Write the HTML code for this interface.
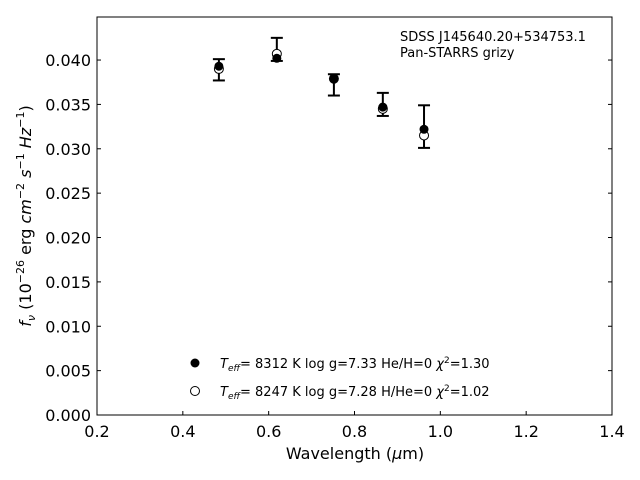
<!DOCTYPE html>
<html><head><meta charset="utf-8"><style>
body{margin:0;background:#fff;}
svg{display:block;font-family:"DejaVu Sans","Liberation Sans",sans-serif;}
</style></head><body>
<svg id="chart" width="640" height="480" xmlns="http://www.w3.org/2000/svg">
<rect x="97" y="17" width="515" height="398" fill="none" stroke="#000" stroke-width="1"/>
<g id="xticks"></g>
<g id="yticks"></g>
<g id="marks"></g>
<text x="355" y="459" font-size="16" text-anchor="middle">Wavelength (<tspan font-style="italic">μ</tspan>m)</text>
<text transform="translate(31,216) rotate(-90)" font-size="16" text-anchor="middle"><tspan font-style="italic">f</tspan><tspan font-style="italic" font-size="11" dy="4">ν</tspan><tspan dy="-4"> (10</tspan><tspan font-size="11" dy="-7">−26</tspan><tspan dy="7"> erg </tspan><tspan font-style="italic">cm</tspan><tspan font-size="11" dy="-7">−2</tspan><tspan dy="7"> </tspan><tspan font-style="italic">s</tspan><tspan font-size="11" dy="-7">−1</tspan><tspan dy="7"> </tspan><tspan font-style="italic">Hz</tspan><tspan font-size="11" dy="-7">−1</tspan><tspan dy="7">)</tspan></text>
<text x="400" y="41" font-size="13">SDSS J145640.20+534753.1</text>
<text x="400" y="57" font-size="13">Pan-STARRS grizy</text>
<g>
<circle cx="195" cy="363" r="4.5" fill="#000"/>
<text x="220" y="368" font-size="13"><tspan font-style="italic">T</tspan><tspan font-style="italic" font-size="9" dy="3">eff</tspan><tspan dy="-3">=  8312 K  log g=7.33  He/H=0  </tspan><tspan font-style="italic">χ</tspan><tspan font-size="9" dy="-5">2</tspan><tspan dy="5">=1.30</tspan></text>
<circle cx="195" cy="391" r="4.5" fill="#fff" stroke="#000" stroke-width="1"/>
<text x="220" y="396" font-size="13"><tspan font-style="italic">T</tspan><tspan font-style="italic" font-size="9" dy="3">eff</tspan><tspan dy="-3">=  8247 K  log g=7.28  H/He=0  </tspan><tspan font-style="italic">χ</tspan><tspan font-size="9" dy="-5">2</tspan><tspan dy="5">=1.02</tspan></text>
</g>
</svg>
<script>
const wavelengths=[0.484,0.619,0.752,0.866,0.962];
const observed=[0.0389,0.0412,0.0372,0.0350,0.0325];
const errors=[0.0012,0.0013,0.0012,0.0013,0.0024];
const modelHeH=[0.0393,0.0402,0.0379,0.0347,0.0322];
const modelHHe=[0.0390,0.0407,0.0379,0.0345,0.0315];
const xTickLabels=["0.2","0.4","0.6","0.8","1.0","1.2","1.4"];
const yTickLabels=["0.000","0.005","0.010","0.015","0.020","0.025","0.030","0.035","0.040"];
const NS="http://www.w3.org/2000/svg";
const X0=97,X1=612,Y0=415,Y1=17,xmin=0.2,xmax=1.4,ymin=0,ymax=0.04485;
function sx(v){return X0+(v-xmin)/(xmax-xmin)*(X1-X0);}
function sy(v){return Y0-(v-ymin)/(ymax-ymin)*(Y0-Y1);}
function mk(tag,attrs,parent){const e=document.createElementNS(NS,tag);for(const k in attrs)e.setAttribute(k,attrs[k]);parent.appendChild(e);return e;}
const gx=document.getElementById('xticks'),gy=document.getElementById('yticks'),gm=document.getElementById('marks');
xTickLabels.forEach(l=>{const x=sx(parseFloat(l));
 const t=mk('line',{x1:x,x2:x,y1:Y0,y2:Y0-4,stroke:'#000'},gx);
 
 
 const tt=mk('text',{x:x,y:Y0+22,'font-size':16,'text-anchor':'middle'},gx);tt.textContent=l;
 
 
});
yTickLabels.forEach(l=>{const y=sy(parseFloat(l));
 const t=mk('line',{x1:X0,x2:X0+4,y1:y,y2:y,stroke:'#000'},gy);
 
 
 const t2=mk('line',{x1:X1,x2:X1-4,y1:y,y2:y,stroke:'#000'},gy);
 
 
 const tt=mk('text',{x:X0-6,y:y+6,'font-size':16,'text-anchor':'end'},gy);tt.textContent=l;
 
 
});
wavelengths.forEach((w,i)=>{const x=sx(w),yt=sy(observed[i]+errors[i]),yb=sy(observed[i]-errors[i]);
 const g=mk('g',{},gm);
 
 
 mk('line',{x1:x,x2:x,y1:yt,y2:yb,stroke:'#000','stroke-width':2},g);
 mk('line',{x1:x-6,x2:x+6,y1:yt,y2:yt,stroke:'#000','stroke-width':2},g);
 mk('line',{x1:x-6,x2:x+6,y1:yb,y2:yb,stroke:'#000','stroke-width':2},g);
});
wavelengths.forEach((w,i)=>{
 const c=mk('circle',{cx:sx(w),cy:sy(modelHHe[i]),r:4.5,fill:'#fff',stroke:'#000','stroke-width':1},gm);
 
 
});
wavelengths.forEach((w,i)=>{
 const c=mk('circle',{cx:sx(w),cy:sy(modelHeH[i]),r:4.5,fill:'#000'},gm);
 
 
});
</script>
</body></html>
